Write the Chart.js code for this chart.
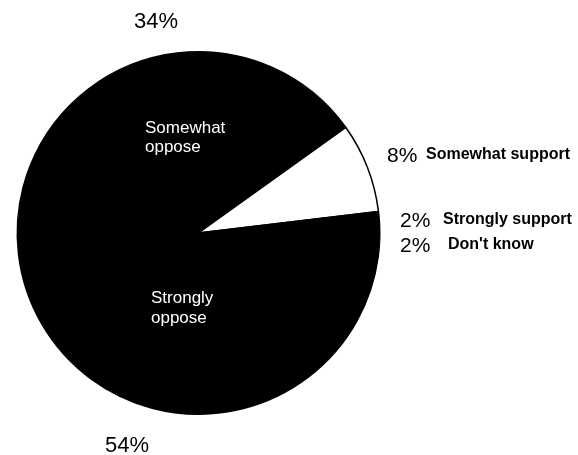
<!DOCTYPE html>
<html>
<head>
<meta charset="utf-8">
<script src="https://cdn.jsdelivr.net/npm/chart.js@4"></script>
<style>
  html, body { margin: 0; padding: 0; background: #fff; }
  #wrap { width: 578px; height: 455px; position: relative; }
</style>
</head>
<body>
<div id="wrap"><canvas id="pieChart"></canvas></div>
<script>
// Chart data
const categories = ["Somewhat oppose", "Somewhat support", "Strongly support", "Don't know", "Strongly oppose"];
const percents = [34, 8, 2, 2, 54];
const sliceColors = ["#000000", "#ffffff", "#000000", "#000000", "#000000"];

// Text drawn around and inside the pie
const labelFont = "'Liberation Sans', Arial, Helvetica, sans-serif";

const labelsPlugin = {
    id: "pieLabels",
    afterDraw(chart) {
        const ctx = chart.ctx;
        ctx.save();
        ctx.textBaseline = "alphabetic";
        ctx.textAlign = "left";

        // big percentages above and below
        ctx.fillStyle = "#000";
        ctx.font = "22px " + labelFont;
        ctx.fillText(percents[0] + "%", 134, 28);
        ctx.fillText(percents[4] + "%", 105, 452);

        // inside the black slices
        ctx.fillStyle = "#fff";
        ctx.font = "17px " + labelFont;
        ctx.fillText("Somewhat", 145, 133);
        ctx.fillText("oppose", 145, 152);
        ctx.fillText("Strongly", 151, 303);
        ctx.fillText("oppose", 151, 323);

        // right side labels
        ctx.fillStyle = "#000";
        const rightRows = [
            { i: 1, pctX: 387, textX: 426, y: 162 },
            { i: 2, pctX: 400, textX: 443, y: 227 },
            { i: 3, pctX: 400, textX: 448, y: 252 },
        ];
        rightRows.forEach((row) => {
            ctx.font = "21px " + labelFont;
            ctx.fillText(percents[row.i] + "%", row.pctX, row.y);
            ctx.font = "bold 16px " + labelFont;
            ctx.fillText(categories[row.i], row.textX, row.y - 3);
        });

        ctx.restore();
    }
};

const ctx = document.getElementById("pieChart").getContext("2d");
const myChart = new Chart(ctx, {
    type: "pie",
    data: {
        labels: categories,
        datasets: [{
            data: percents,
            backgroundColor: sliceColors,
            borderColor: "#000000",
            borderWidth: 1.5,
            hoverOffset: 0
        }]
    },
    options: {
        responsive: true,
        maintainAspectRatio: false,
        animation: false,
        rotation: -68,
        layout: {
            padding: { left: 16, right: 197, top: 51, bottom: 40 }
        },
        plugins: {
            legend: { display: false },
            tooltip: { enabled: false }
        }
    },
    plugins: [labelsPlugin]
});
</script>
</body>
</html>
